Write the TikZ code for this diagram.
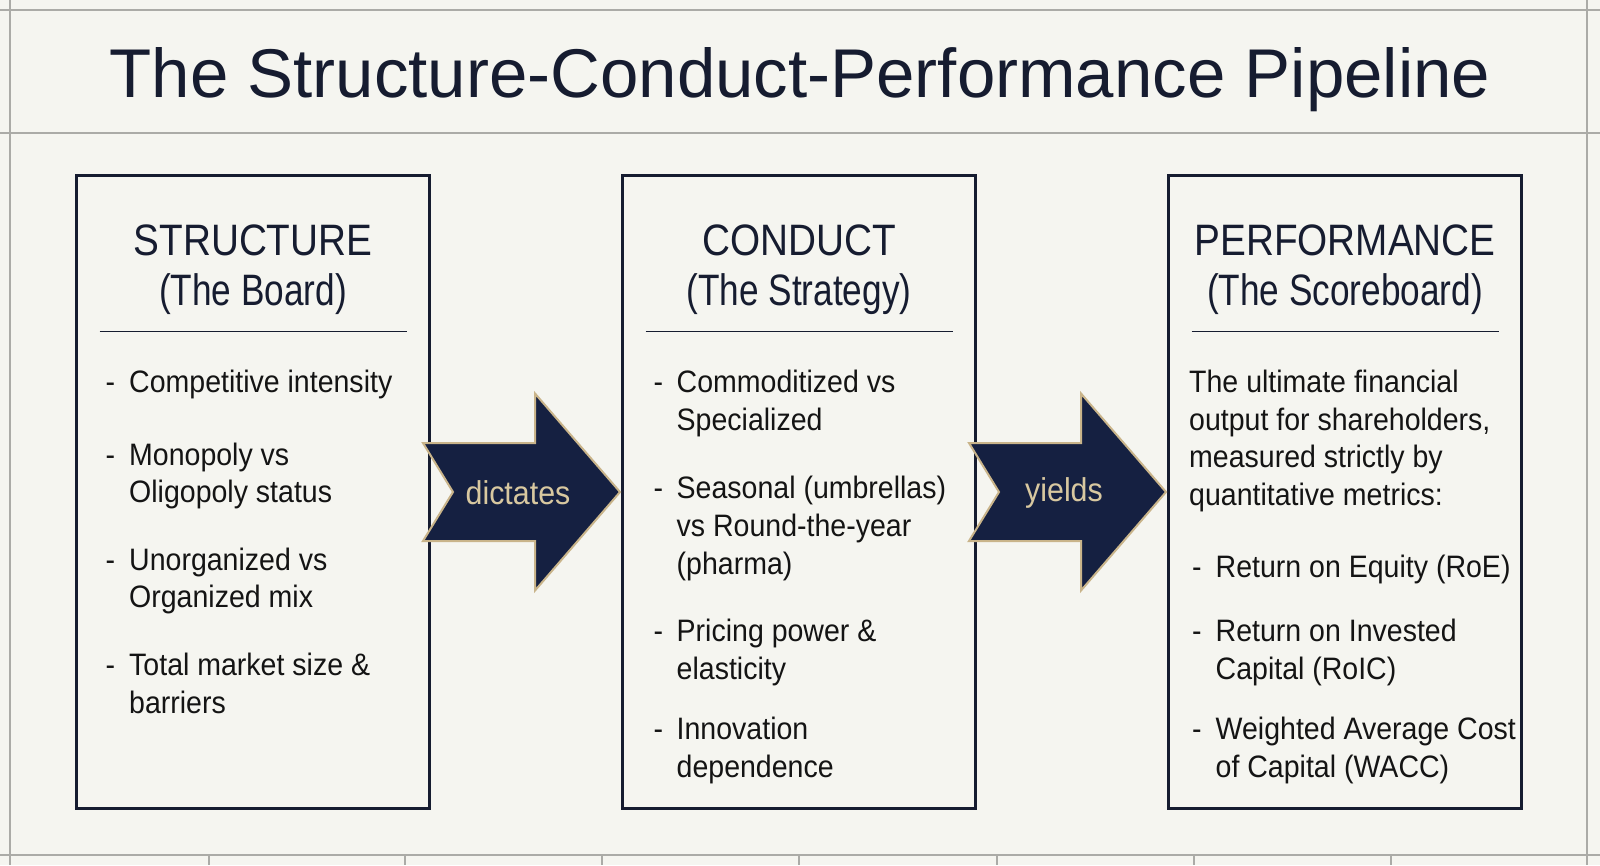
\documentclass[tikz,border=0pt]{standalone}
\usepackage{fontspec}
\setmainfont{Liberation Sans}
\newfontfamily\condfont[FakeStretch=0.88]{Liberation Sans}
\newfontfamily\subfont[FakeStretch=0.80]{Liberation Sans}
\newfontfamily\bodyfont[FakeStretch=0.92]{Liberation Sans}
\usepackage{xcolor}
\usepackage{tikz}
\usetikzlibrary{positioning, calc}

\definecolor{paper}{HTML}{F5F5F0}
\definecolor{gridgray}{HTML}{ABABA7}
\definecolor{navy}{HTML}{152041}
\definecolor{inkblue}{HTML}{161C30}
\definecolor{gold}{HTML}{C9B48A}
\definecolor{goldtext}{HTML}{D8C8A0}
\definecolor{bodyink}{HTML}{141414}

% stacked lines, baseline on the first line
\newcommand{\stackl}[1]{\begin{tabular}[t]{@{}l@{}}#1\end{tabular}}
\newcommand{\headtext}[2]{\begin{tabular}[t]{@{}c@{}}#1\\{\subfont #2}\end{tabular}}

\begin{document}
\begin{tikzpicture}[
        x=1pt, y=-1pt,
        node distance=190pt,
        panel/.style={draw=inkblue, line width=3pt, minimum width=353pt, minimum height=633pt, inner sep=0pt},
        head/.style={font=\condfont\fontsize{44}{49.5}\selectfont, text=inkblue, anchor=base, inner sep=0pt},
        item/.style={font=\bodyfont\fontsize{31}{37.7}\selectfont, text=bodyink, anchor=base west, inner sep=0pt},
        rule/.style={draw=inkblue, line width=1.5pt},
        gridline/.style={draw=gridgray, line width=1.5pt},
        blockarrow/.style={fill=navy, draw=gold, line width=2pt, line join=miter},
        verb/.style={font=\bodyfont\fontsize{33}{38}\selectfont, text=goldtext}
    ]
        % Paper and grid
        \fill[paper] (0,0) rectangle (1600,865);
        \useasboundingbox (0,0) rectangle (1600,865);
        \draw[gridline] (0,10) -- (1600,10);
        \draw[gridline] (0,133) -- (1600,133);
        \draw[gridline] (0,855) -- (1600,855);
        \draw[gridline] (10,0) -- (10,865);
        \draw[gridline] (1587,0) -- (1587,865);
        \foreach \x in {209,405,602,799,997,1194,1391}
            \draw[gridline] (\x,855) -- (\x,865);

        % Title
        \node[font=\fontsize{69}{80}\selectfont, text=inkblue, anchor=base] (title) at (800,97) {The Structure-Conduct-Performance Pipeline};

        % Panels
        \node[panel] (structure) at (253,492) {};
        \node[panel, right=of structure] (conduct) {};
        \node[panel, right=of conduct] (performance) {};

        % Headers
        \node[head] (structhead) at ($(structure.north)+(0,81.5)$) {\headtext{STRUCTURE}{(The Board)}};
        \node[head] (condhead) at ($(conduct.north)+(0,81.5)$) {\headtext{CONDUCT}{(The Strategy)}};
        \node[head] (perfhead) at ($(performance.north)+(0,81.5)$) {\headtext{PERFORMANCE}{(The Scoreboard)}};
        \foreach \p in {structure, conduct, performance}
            \draw[rule] ($(\p.north west)+(24.5,157.5)$) -- ($(\p.north east)+(-24.5,157.5)$);

        % Structure items
        \foreach \n/\y/\t in {1/218.5/{Competitive intensity}, 2/291/{Monopoly vs\\Oligopoly status}, 3/396/{Unorganized vs\\Organized mix}, 4/501.5/{Total market size \&\\barriers}} {
            \node[item] (sdash\n) at ($(structure.north west)+(30.5,\y)$) {-};
            \node[item] (sitem\n) at ($(structure.north west)+(54,\y)$) {\stackl{\t}};
        }

        % Conduct items
        \foreach \n/\y/\t in {1/218.5/{Commoditized vs\\Specialized}, 2/324.7/{Seasonal (umbrellas)\\vs Round-the-year\\(pharma)}, 3/467.6/{Pricing power \&\\elasticity}, 4/565.6/{Innovation\\dependence}} {
            \node[item] (cdash\n) at ($(conduct.north west)+(32.5,\y)$) {-};
            \node[item] (citem\n) at ($(conduct.north west)+(55.5,\y)$) {\stackl{\t}};
        }

        % Performance text and items
        \node[item] (pintro) at ($(performance.north west)+(22,218.5)$) {\stackl{The ultimate financial\\output for shareholders,\\measured strictly by\\quantitative metrics:}};
        \foreach \n/\y/\t in {1/403.3/{Return on Equity (RoE)}, 2/467.6/{Return on Invested\\Capital (RoIC)}, 3/565.6/{Weighted Average Cost\\of Capital (WACC)}} {
            \node[item] (pdash\n) at ($(performance.north west)+(25,\y)$) {-};
            \node[item] (pitem\n) at ($(performance.north west)+(48.5,\y)$) {\stackl{\t}};
        }

        % Arrows
        \coordinate (a1) at ($(structure.east)!0.5!(conduct.west)+(-5,0)$);
        \coordinate (a2) at ($(conduct.east)!0.5!(performance.west)+(-5,0)$);
        \foreach \a/\w in {a1/dictates, a2/yields} {
            \draw[blockarrow] ($(\a)+(-98,-49)$) -- ($(\a)+(14,-49)$) -- ($(\a)+(14,-98.5)$)
                -- ($(\a)+(99,0)$) -- ($(\a)+(14,98.5)$) -- ($(\a)+(14,49)$)
                -- ($(\a)+(-98,49)$) -- ($(\a)+(-68,0)$) -- cycle;
            \node[verb] (\w) at ($(\a)+(-3,1)$) {\w};
        }

    \end{tikzpicture}
\end{document}
